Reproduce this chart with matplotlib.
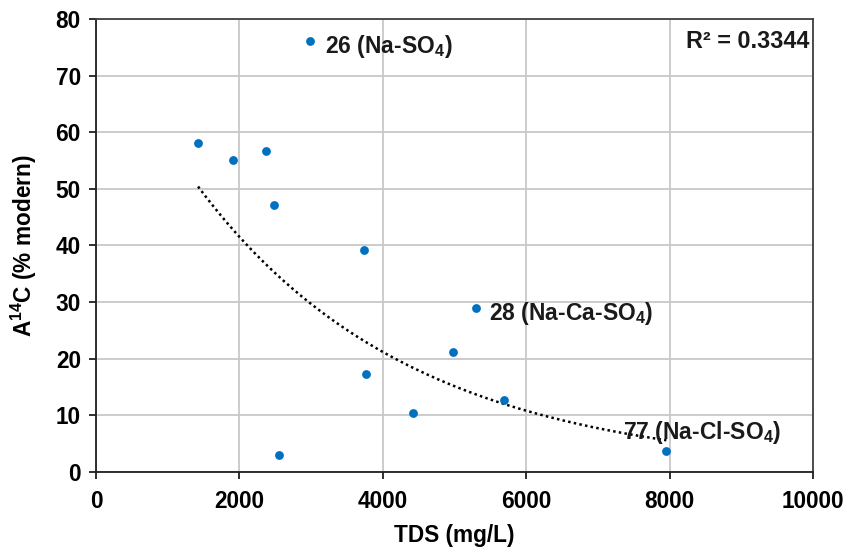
import numpy as np
import matplotlib
matplotlib.use('Agg')
import matplotlib.pyplot as plt

plt.rcParams['font.family'] = ['Liberation Sans', 'DejaVu Sans']
plt.rcParams['font.weight'] = 'bold'
plt.rcParams['mathtext.fontset'] = 'custom'
plt.rcParams['mathtext.rm'] = 'Liberation Sans:bold'
plt.rcParams['mathtext.bf'] = 'Liberation Sans:bold'
plt.rcParams['mathtext.it'] = 'Liberation Sans:bold'
plt.rcParams['mathtext.default'] = 'bf'

# TDS (mg/L) vs A14C (% modern)
tds = [1423, 1911, 2371, 2483, 2985, 3738, 3766, 2556, 4417, 4979, 5300, 5690, 7954]
a14c = [58.1, 55.1, 56.7, 47.2, 76.1, 39.2, 17.3, 2.95, 10.4, 21.2, 29.0, 12.8, 3.7]

# labelled samples: index into the arrays, text, offset in points
labels = [
    (4, '26 (Na-SO$_4$)', (11, -4)),
    (10, '28 (Na-Ca-SO$_4$)', (9.5, -4)),
    (12, '77 (Na-Cl-SO$_4$)', (-31, 13.5)),
]

x_ticks = [0, 2000, 4000, 6000, 8000, 10000]
y_ticks = [0, 10, 20, 30, 40, 50, 60, 70, 80]

fig = plt.figure(figsize=(8.59, 5.5), dpi=100)
ax = fig.add_axes([0.1118, 0.1418, 0.8347, 0.8237])

# exponential trend line (least squares on ln y)
x = np.array(tds, dtype=float)
y = np.array(a14c, dtype=float)
b, ln_a = np.polyfit(x, np.log(y), 1)
xf = np.linspace(x.min(), x.max(), 200)
ax.plot(xf, np.exp(ln_a + b * xf), color='black', linestyle=(0, (1, 1.3)),
        linewidth=1.8, zorder=2)

ax.scatter(tds, a14c, s=40, color='#0070C0', zorder=3, linewidths=0)

for i, txt, off in labels:
    ax.annotate(txt, (tds[i], a14c[i]), xytext=off, textcoords='offset points',
                fontsize=16.5, fontweight='bold', color='#1a1a1a',
                ha='left', va='center', zorder=4)

ax.text(0.995, 0.975, 'R² = 0.3344', transform=ax.transAxes, ha='right', va='top',
        fontsize=16.8, fontweight='bold', color='#1a1a1a')

ax.set_xlim(0, 10000)
ax.set_ylim(0, 80)
ax.set_xticks(x_ticks)
ax.set_yticks(y_ticks)
ax.grid(True, color='#c8c8c8', linewidth=1.3)
ax.set_axisbelow(True)
for sp in ax.spines.values():
    sp.set_color('#404040')
    sp.set_linewidth(1.3)
ax.spines['left'].set_color('#202020')
ax.spines['bottom'].set_color('#202020')
ax.tick_params(axis='both', direction='out', length=5, width=1.3, color='#202020',
               labelsize=16.3, pad=6)
ax.tick_params(axis='x', pad=8)
for lab in ax.get_xticklabels() + ax.get_yticklabels():
    lab.set_fontweight('bold')

ax.set_xlabel('TDS (mg/L)', fontsize=16.3, fontweight='bold', labelpad=8)
ax.set_ylabel('A$^{14}$C (% modern)', fontsize=16.3, fontweight='bold', labelpad=12)

fig.savefig('out.png', dpi=100)
